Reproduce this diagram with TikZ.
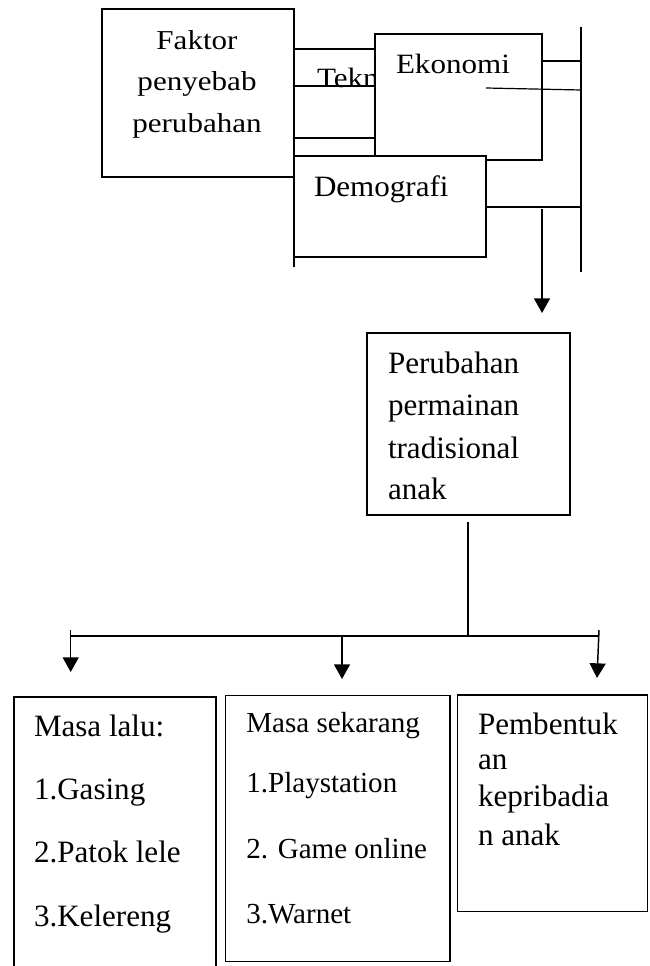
\documentclass[tikz,border=0pt]{standalone}
\usepackage{fontspec}
\setmainfont{Liberation Serif}
\usetikzlibrary{arrows.meta,fit}
\begin{document}
\begin{tikzpicture}[x=0.75pt,y=-0.75pt,
  box/.style={draw,line width=0.9pt,inner sep=0pt,outer sep=0pt,fill=white},
  ln/.style={line width=0.9pt},
  arr/.style={line width=1.1pt,-{Triangle[width=12pt,length=11pt]}},
  txt/.style={inner sep=0pt,outer sep=0pt,font=\fontsize{23.3}{28}\selectfont},
  txts/.style={inner sep=0pt,outer sep=0pt,font=\fontsize{21.8}{26}\selectfont},
  sq/.style={yscale=0.9}]
\useasboundingbox (0,0) rectangle (649,966);
\clip (0,0) rectangle (649,966);

% Teknologi box (mostly hidden behind Ekonomi)
\node[box, fit={(294,49) (440,138)}] (tekno) {};
\begin{scope}
  \clip (294,40) rectangle (375,140);
  \node[txt, sq, anchor=base west] (teknoT) at (317,87.3) {Tekn};
\end{scope}
\coordinate (t86) at (375,86);
\draw[ln] (t86 -| tekno.west) -- (t86);

% Ekonomi box
\node[box, fit={(375,34) (542,160)}] (ekonomi) {};
\node[txt, sq, anchor=base west] (ekonomiT) at (396,74) {Ekonomi};

% Demografi box
\node[box, fit={(294,156) (486,257)}] (demografi) {};
\node[txt, yscale=0.95, anchor=base west] (demografiT) at (314,197) {Demografi};
\coordinate (dExt) at (294,267);
\draw[ln] (demografi.south west) -- (dExt);

% Faktor box
\node[box, fit={(102,9) (294,177)}] (faktor) {};
\node[txt, yscale=0.88, anchor=base] (f1) at (197,50) {Faktor};
\node[txt, yscale=0.88, anchor=base] (f2) at (197,91) {penyebab};
\node[txt, yscale=0.88, anchor=base] (f3) at (197,133) {perubahan};

% bus on the right
\coordinate (busT) at (581,27);
\coordinate (busB) at (581,272);
\draw[ln] (busT) -- (busB);
\coordinate (bE) at (581,61);
\draw[ln] (bE -| ekonomi.east) -- (bE);
\coordinate (tS) at (486,88);
\coordinate (tE) at (581,90);
\draw[ln] (tS) -- (tE);
\coordinate (bD) at (581,207);
\draw[ln] (bD -| demografi.east) -- (bD);

% arrow to Perubahan
\coordinate (aS) at (542,209);
\coordinate (aE) at (542,313);
\draw[arr] (aS) -- (aE);

% Perubahan box
\node[box, fit={(367,333) (570,515)}] (perubahan) {};
\node[txt, anchor=base west] (p1) at (388,373) {Perubahan};
\node[txt, anchor=base west] (p2) at (388,415.5) {permainan};
\node[txt, anchor=base west] (p3) at (388,458) {tradisional};
\node[txt, anchor=base west] (p4) at (388,499.5) {anak};

% tree to the bottom
\coordinate (pS) at (468,521.7);
\coordinate (bus) at (468,636);
\draw[ln] (pS) -- (bus);
\coordinate (busL) at (70.7,636);
\coordinate (busR) at (599,636);
\draw[ln] (busL) -- (busR);
\coordinate (l0) at (70.7,630);
\coordinate (l1) at (70.7,672);
\draw[arr] (l0) -- (l1);
\coordinate (m0) at (342,636);
\coordinate (m1) at (342,679);
\draw[arr] (m0) -- (m1);
\coordinate (r0) at (599,630);
\coordinate (r1) at (597,678);
\draw[arr] (r0) -- (r1);

% bottom boxes
\node[box, fit={(14,697) (216,990)}] (masalalu) {};
\node[txt, anchor=base west] (a1) at (34,736.7) {Masa lalu:};
\node[txt, anchor=base west] (a2) at (34,799) {1.Gasing};
\node[txt, anchor=base west] (a3) at (34,862.7) {2.Patok lele};
\node[txt, anchor=base west] (a4) at (34,926) {3.Kelereng};

\node[box, fit={(225.6,695.7) (450,961.7)}] (masakini) {};
\node[txts, anchor=base west] (b1) at (246.3,732.7) {Masa sekarang};
\node[txts, anchor=base west] (b2) at (246.3,792.7) {1.Playstation};
\node[txts, anchor=base west] (b3) at (246.3,858) {2. Game online};
\node[txts, anchor=base west] (b4) at (246.3,923) {3.Warnet};

\node[box, fit={(457.4,695) (647.5,911.7)}] (pembentuk) {};
\node[txt, anchor=base west] (c1) at (478,734.3) {Pembentuk};
\node[txt, anchor=base west] (c2) at (478,769.3) {an};
\node[txt, anchor=base west] (c3) at (478,806.7) {kepribadia};
\node[txt, anchor=base west] (c4) at (478,845) {n anak};
\end{tikzpicture}
\end{document}
